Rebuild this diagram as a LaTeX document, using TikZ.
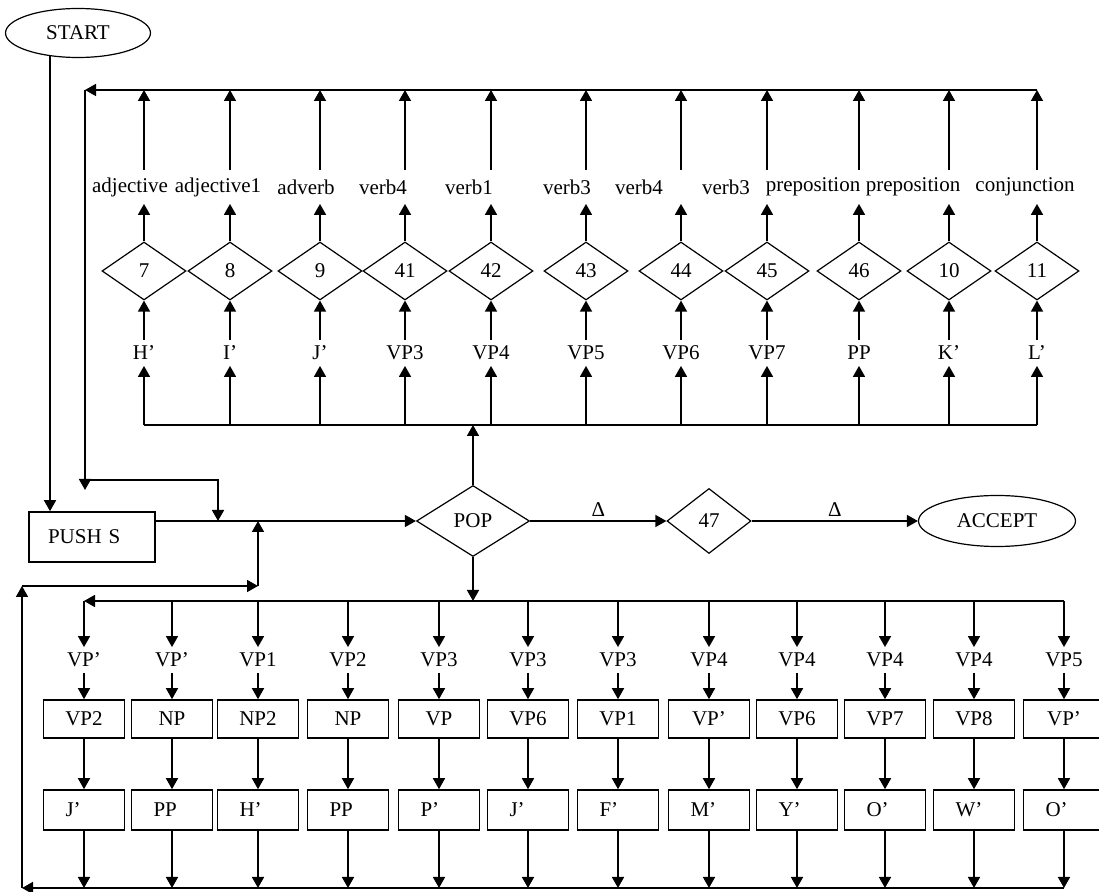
\documentclass[tikz,border=0pt]{standalone}
\usepackage{fontspec}
\setmainfont{Liberation Serif}
\usetikzlibrary{arrows.meta, shapes.geometric, calc}

\begin{document}
\begin{tikzpicture}[
    x=0.5pt, y=-0.5pt,
    every node/.style={font=\fontsize{10.5}{12}\selectfont},
]

% ================================================================
%  Units are pixels of the 1099 x 892 sheet, y running downwards.
%  Top rows: diamond at y = 271, word above at 187, symbol below
%  at 353; return line at y = 90, feeding bus at y = 425.
%  Main line through POP at y = 521.
%  Bottom rows: bus at y = 601, symbol 660, boxes 719 and 810,
%  return line at y = 888.
% ================================================================

\tikzset{
  arr/.style={-{Triangle[length=5.5pt, width=6pt]}, line width=0.8pt},
  ln/.style={line width=0.8pt},
  dia/.style={draw, diamond, line width=0.6pt, inner sep=0pt,
              minimum width=42pt, minimum height=29pt},
  box/.style={draw, rectangle, line width=0.8pt, inner sep=0pt,
              minimum width=40.5pt, minimum height=19pt},
  lbl/.style={inner sep=0pt, minimum height=12.5pt},
  word/.style={inner sep=0pt, minimum height=16.5pt},
  term/.style={draw, ellipse, line width=0.6pt, inner sep=0pt},
}

\useasboundingbox (0,0) rectangle (1099,892);

% ---------------------------------------------------------------- main line
\node[term, minimum width=72.5pt, minimum height=24.5pt] (start) at (78,33) {START};
\node[box, minimum width=63pt, minimum height=25pt, text width=44pt,
      inner xsep=9.5pt, align=left] (pushs) at (92,537) {PUSH S};
\node[dia, minimum width=56.5pt, minimum height=35.5pt] (pop) at (473,521) {POP};
\node[dia, minimum width=42pt, minimum height=32.5pt] (n47) at (709,521) {47};
\node[term, minimum width=78.5pt, minimum height=25.5pt] (accept) at (997,521) {ACCEPT};

\coordinate (s0) at (start.219 -| 50,0);
\draw[arr] (s0) -- (s0 |- pushs.north);
\draw[arr] (pushs.east |- pop.west) -- (pop.west);
\draw[arr] (pop.east) -- (n47.west) node[midway, above=2pt, inner sep=0pt] {Δ};
\draw[arr] (n47.east) -- (accept.west) node[midway, above=2pt, inner sep=0pt] {Δ};

% ---------------------------------------------------------------- upper branches
\foreach \i/\cx/\nm/\wrd/\wx/\sym in {
    1/144/7/adjective/130/H',
    2/230/8/adjective1/218/I',
    3/320/9/adverb/306/J',
    4/405/41/verb4/383/VP3,
    5/491/42/verb1/469/VP4,
    6/586/43/verb3/567/VP5,
    7/681/44/verb4/639/VP6,
    8/767/45/verb3/726/VP7,
    9/859/46/preposition/813/PP,
    10/949/10/preposition/913/K',
    11/1037/11/conjunction/1025/L'} {
    \node[dia] (d\i) at (\cx, 271) {\nm};
    \node[word] (w\i) at (\wx, 187) {\wrd};
    \node[lbl] (s\i) at (\cx, 353) {\sym};
    \coordinate (t\i) at (\cx, 90);
    \coordinate (b\i) at (\cx, 425);
    \draw[arr] (w\i.north -| d\i.north) -- (t\i);
    \draw[arr] (d\i.north) -- (d\i.north |- w\i.south);
    \draw[arr] (s\i.north) -- (d\i.south);
    \draw[arr] (b\i) -- (s\i.south);
}
\draw[ln] (b1) -- (b11);
\draw[arr] (pop.north) -- (pop.north |- b1);

% inner return
\coordinate (fbT) at (85,90);
\coordinate (fbD) at (85,490);
\coordinate (fbA) at (85,480);
\coordinate (fbB) at (218,480);
\draw[arr] (t11) -- (fbT);
\draw[arr] (fbT) -- (fbD);
\draw[arr] (fbA) -- (fbB) -- (fbB |- pop.west);

% ---------------------------------------------------------------- lower branches
\foreach \i/\cx/\lv/\pa/\pb in {
    1/84/VP'/VP2/J',
    2/172/VP'/NP/PP,
    3/258/VP1/NP2/H',
    4/348/VP2/NP/PP,
    5/439/VP3/VP/P',
    6/528/VP3/VP6/J',
    7/618/VP3/VP1/F',
    8/709/VP4/VP'/M',
    9/797/VP4/VP6/Y',
    10/885/VP4/VP7/O',
    11/974/VP4/VP8/W',
    12/1064/VP5/VP'/O'} {
    \coordinate (q\i) at (\cx, 601);
    \coordinate (z\i) at (\cx, 888);
    \node[lbl] (v\i) at (\cx, 660) {\lv};
    \node[box] (p\i) at (\cx, 719) {\pa};
    \node[box, minimum height=20pt, text width=18.5pt, inner xsep=11pt,
          align=left] (r\i) at (\cx, 810) {\pb};
    \draw[arr] (q\i) -- (v\i.north);
    \draw[arr] (v\i.south) -- (p\i.north);
    \draw[arr] (p\i.south) -- (r\i.north);
    \draw[arr] (r\i.south) -- (z\i);
}
\draw[arr] (q12) -- (q1);
\draw[arr] (pop.south) -- (pop.south |- q1);

% outer return
\coordinate (rb) at (22,888);
\coordinate (rt) at (22,586);
\coordinate (rj) at (258,586);
\draw[arr] (z12) -- (rb);
\draw[arr] (rb) -- (rt);
\draw[arr] (rt) -- (rj);
\draw[arr] (rj) -- (rj |- pop.west);

\end{tikzpicture}
\end{document}
